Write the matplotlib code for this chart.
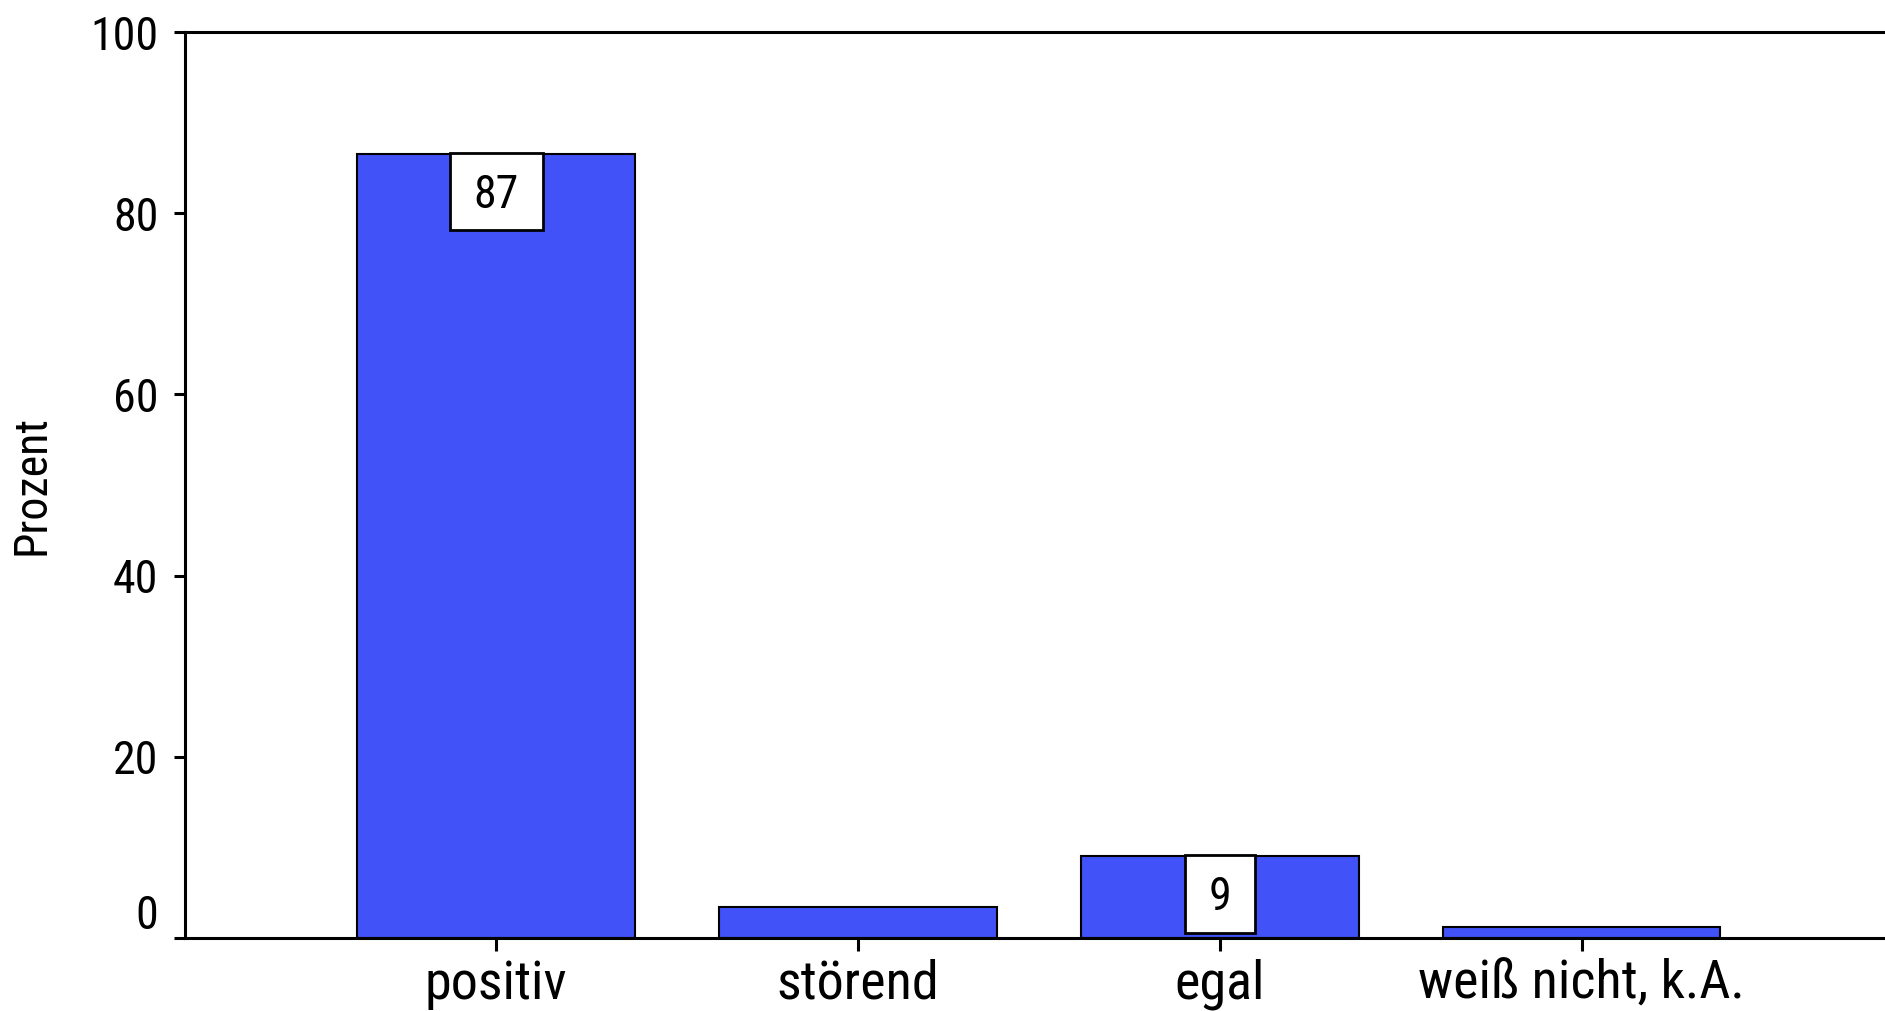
import matplotlib
matplotlib.use("Agg")
import matplotlib.pyplot as plt
from matplotlib.path import Path

# Survey answers (percent)
categories = ["positiv", "störend", "egal", "weiß nicht, k.A."]
values = [86.6, 3.4, 9.0, 1.2]
labelled = [True, False, True, False]
yticks = [0, 20, 40, 60, 80, 100]

plt.rcParams["font.family"] = ["Roboto Condensed", "Liberation Sans", "DejaVu Sans"]

BAR_COLOR = "#4052F8"
DPI = 100
fig = plt.figure(figsize=(18.85, 10.11), dpi=DPI)
ax = fig.add_axes([0.0981, 0.0725, 0.9061, 0.8955])

x = list(range(len(categories)))
ax.bar(x, values, width=0.767, color=BAR_COLOR, edgecolor="black", linewidth=1.5, zorder=2)

ax.set_xlim(-0.86, len(categories) - 1 + 0.86)
ax.set_ylim(0, 100)
ax.set_yticks(yticks)
ax.set_xticks(x)
ax.set_xticklabels(categories, fontsize=39)
ax.tick_params(axis="y", labelsize=33, length=8, width=2.2, pad=11, direction="out")
ax.tick_params(axis="x", length=9, width=2.2, pad=6, direction="out")

# lift the zero label off the baseline
ax.get_yticklabels()[0].set_va("bottom")

for side in ("left", "top", "bottom"):
    ax.spines[side].set_linewidth(2.2)
ax.spines["right"].set_visible(False)

ax.set_ylabel("Prozent", fontsize=33, va="center")
ax.yaxis.set_label_coords(-0.0896, 0.5)


def value_box(x0, y0, width, height, mutation_size):
    # rectangle around the value text: wide sides, digits centred vertically
    padx = 0.52 * mutation_size
    pad_top = 0.44 * mutation_size
    pad_bottom = 0.30 * mutation_size
    l, b = x0 - padx, y0 - pad_bottom
    r, t = x0 + width + padx, y0 + height + pad_top
    return Path([(l, b), (r, b), (r, t), (l, t), (l, b)], closed=True)


for xi, v, show in zip(x, values, labelled):
    if not show:
        continue
    ax.annotate(f"{v:.0f}", xy=(xi, v), xytext=(0, -13.7), textcoords="offset points",
                ha="center", va="top", fontsize=33, zorder=4,
                bbox=dict(boxstyle=value_box, facecolor="white", edgecolor="black", linewidth=2.0))

fig.savefig("out.png", dpi=DPI)
